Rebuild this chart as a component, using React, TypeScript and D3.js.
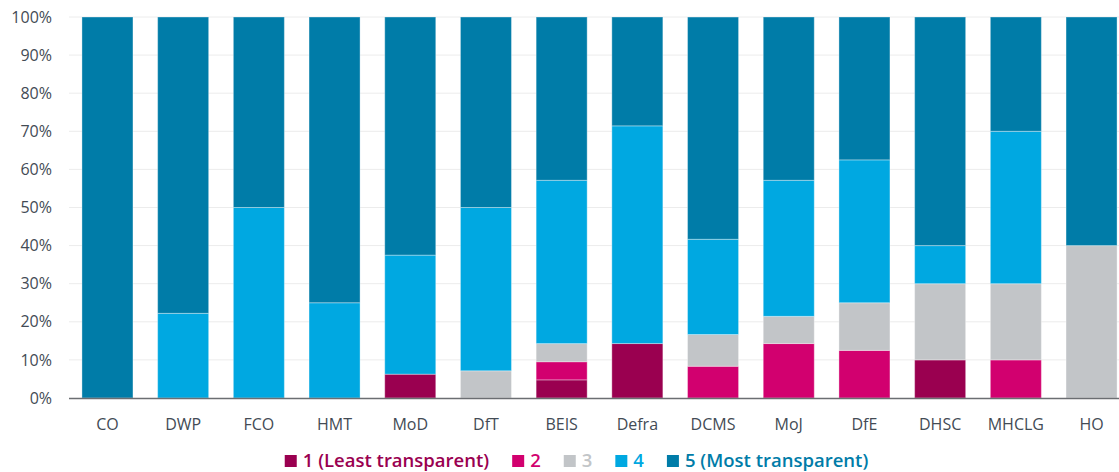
import React, { useEffect, useRef } from 'react';
import * as d3 from 'd3';

// Departments along the x axis
const departments = ['CO', 'DWP', 'FCO', 'HMT', 'MoD', 'DfT', 'BEIS', 'Defra', 'DCMS', 'MoJ', 'DfE', 'DHSC', 'MHCLG', 'HO'];

// Share (%) of each transparency level per department
const level1 = [0, 0, 0, 0, 6.25, 0, 4.76, 14.29, 0, 0, 0, 10, 0, 0];
const level2 = [0, 0, 0, 0, 0, 0, 4.76, 0, 8.33, 14.29, 12.5, 0, 10, 0];
const level3 = [0, 0, 0, 0, 0, 7.14, 4.76, 0, 8.33, 7.14, 12.5, 20, 20, 40];
const level4 = [0, 22.22, 50, 25, 31.25, 42.86, 42.86, 57.14, 25, 35.71, 37.5, 10, 40, 0];
const level5 = [100, 77.78, 50, 75, 62.5, 50, 42.86, 28.57, 58.33, 42.86, 37.5, 60, 30, 60];

const seriesNames = ['1 (Least transparent)', '2', '3', '4', '5 (Most transparent)'];
const seriesColors = ['#9a0050', '#d2006f', '#c2c5c8', '#00a8e1', '#007ca8'];
const yTicks = [0, 10, 20, 30, 40, 50, 60, 70, 80, 90, 100];

const W = 1119;
const H = 472;

const App = () => {
  const svgRef = useRef<SVGSVGElement>(null);

  useEffect(() => {
    if (!svgRef.current) return;
    const svg = d3.select(svgRef.current);
    svg.selectAll('*').remove();

    const margin = { top: 17, left: 69, bottom: 74 };
    const plotBottom = H - margin.bottom;

    const table = departments.map((d, i) => ({
      dept: d,
      s0: level1[i], s1: level2[i], s2: level3[i], s3: level4[i], s4: level5[i],
    }));
    const keys = ['s0', 's1', 's2', 's3', 's4'];
    const stacked = d3.stack<any>().keys(keys)(table);

    const x = d3.scaleBand()
      .domain(departments)
      .range([margin.left, 1130])
      .paddingInner(0.326)
      .paddingOuter(0.171);

    const y = d3.scaleLinear()
      .domain([0, 100])
      .range([plotBottom, margin.top]);

    const font = '"Open Sans", "Noto Sans", sans-serif';
    const textColor = '#434b55';

    // gridlines
    svg.append('g')
      .selectAll('line')
      .data(yTicks.filter(t => t > 0))
      .enter()
      .append('line')
      .attr('x1', margin.left)
      .attr('x2', W)
      .attr('y1', d => y(d))
      .attr('y2', d => y(d))
      .attr('stroke', '#ececec')
      .attr('stroke-width', 1);

    // y labels
    svg.append('g')
      .selectAll('text')
      .data(yTicks)
      .enter()
      .append('text')
      .attr('x', 52)
      .attr('y', d => y(d))
      .attr('dy', '0.35em')
      .attr('text-anchor', 'end')
      .attr('font-family', font)
      .attr('font-size', 16)
      .attr('fill', textColor)
      .text(d => `${d}%`);

    // bars
    svg.append('g')
      .selectAll('g')
      .data(stacked)
      .enter()
      .append('g')
      .attr('fill', (_d, i) => seriesColors[i])
      .selectAll('rect')
      .data(d => d.filter(p => p[1] - p[0] > 0))
      .enter()
      .append('rect')
      .attr('x', d => x(d.data.dept) as number)
      .attr('y', d => y(d[1]))
      .attr('width', x.bandwidth())
      .attr('height', d => y(d[0]) - y(d[1]))
      .attr('stroke', 'rgba(255,255,255,0.35)')
      .attr('stroke-width', 1);

    // x axis line
    svg.append('line')
      .attr('x1', margin.left)
      .attr('x2', W)
      .attr('y1', plotBottom + 0.5)
      .attr('y2', plotBottom + 0.5)
      .attr('stroke', '#6b6e72')
      .attr('stroke-width', 1.5);

    // x labels
    svg.append('g')
      .selectAll('text')
      .data(departments)
      .enter()
      .append('text')
      .attr('x', d => (x(d) as number) + x.bandwidth() / 2)
      .attr('y', 424)
      .attr('dy', '0.35em')
      .attr('text-anchor', 'middle')
      .attr('font-family', font)
      .attr('font-size', 16)
      .attr('fill', textColor)
      .text(d => d);

    // legend
    const legend = svg.append('g');
    const items = legend.selectAll('g')
      .data(seriesNames)
      .enter()
      .append('g');
    items.append('rect')
      .attr('width', 12)
      .attr('height', 12)
      .attr('y', -6)
      .attr('fill', (_d, i) => seriesColors[i]);
    items.append('text')
      .attr('x', 18)
      .attr('dy', '0.35em')
      .attr('font-family', font)
      .attr('font-size', 18.5)
      .attr('font-weight', 600)
      .attr('fill', (_d, i) => seriesColors[i])
      .text(d => d);

    let cursor = 0;
    items.each(function () {
      const g = d3.select(this);
      const tw = (g.select('text').node() as SVGTextElement).getComputedTextLength();
      g.attr('transform', `translate(${cursor},0)`);
      cursor += 18 + tw + 23;
    });
    const totalW = cursor - 23;
    legend.attr('transform', `translate(${576.5 - totalW / 2},461)`);
  }, []);

  return (
    <svg
      ref={svgRef}
      width={W}
      height={H}
      style={{ position: 'absolute', left: 0, top: 0, background: '#fff' }}
    />
  );
};

export default App;
